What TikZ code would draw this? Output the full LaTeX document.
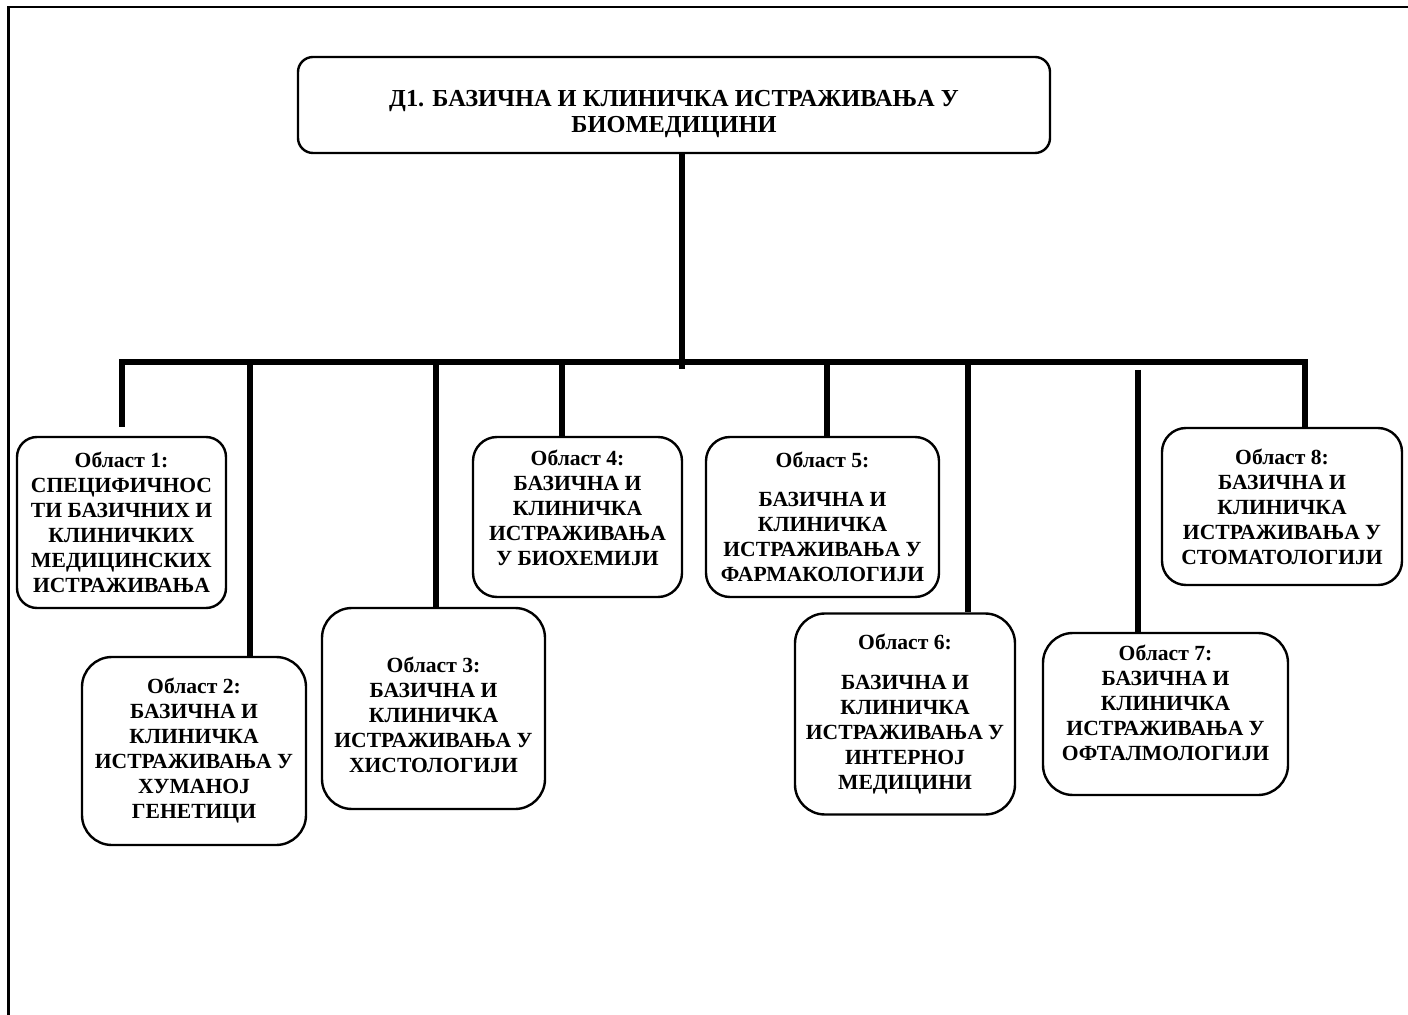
\documentclass[tikz,border=0pt]{standalone}
\usepackage{fontspec}
\setmainfont{Liberation Serif}
\begin{document}
\begin{tikzpicture}[x=0.5pt,y=-0.5pt,
  area/.style={draw,line width=1.2pt,rounded corners=#1,align=center,inner sep=0pt,
    font=\bfseries\fontsize{10.8}{12.5}\selectfont},
  area/.default=10pt,
  conn/.style={line width=2.6pt},
  frame/.style={line width=1.2pt}]
\useasboundingbox (0,0) rectangle (1408,1015);
% outer frame (cut by the page edge)
\draw[frame] (8.5,1015) -- (8.5,7) -- (1408,7);

% top box
\node[area=7.5pt,minimum width=376pt,minimum height=48pt,
      font=\bfseries\fontsize{12.2}{13}\selectfont] (top) at (674,105)
  {\rule{0pt}{17pt}Д1. БАЗИЧНА И КЛИНИЧКА ИСТРАЖИВАЊА У\\БИОМЕДИЦИНИ};

% areas
\node[area,minimum width=104.5pt,minimum height=85.5pt] (b1) at (121.5,522.5)
  {Област 1:\\СПЕЦИФИЧНОС\\ТИ БАЗИЧНИХ И\\КЛИНИЧКИХ\\МЕДИЦИНСКИХ\\ИСТРАЖИВАЊА};
\node[area=15pt,minimum width=112pt,minimum height=94pt] (b2) at (194,751)
  {Област 2:\\БАЗИЧНА И\\КЛИНИЧКА\\ИСТРАЖИВАЊА У\\ХУМАНОЈ\\ГЕНЕТИЦИ};
\node[area=15pt,minimum width=111.5pt,minimum height=100.5pt] (b3) at (433.5,708.5)
  {\rule{0pt}{14pt}Област 3:\\БАЗИЧНА И\\КЛИНИЧКА\\ИСТРАЖИВАЊА У\\ХИСТОЛОГИЈИ};
\node[area=12pt,minimum width=104.5pt,minimum height=80pt] (b4) at (577.5,517)
  {Област 4:\\БАЗИЧНА И\\КЛИНИЧКА\\ИСТРАЖИВАЊА\\У БИОХЕМИЈИ\rule[-9pt]{0pt}{9pt}};
\node[area=12pt,minimum width=116.5pt,minimum height=80pt] (b5) at (822.5,517)
  {Област 5:\\[7pt]БАЗИЧНА И\\КЛИНИЧКА\\ИСТРАЖИВАЊА У\\ФАРМАКОЛОГИЈИ};
\node[area=15pt,minimum width=110pt,minimum height=100.5pt] (b6) at (905,714)
  {Област 6:\\[7.5pt]БАЗИЧНА И\\КЛИНИЧКА\\ИСТРАЖИВАЊА У\\ИНТЕРНОЈ\\МЕДИЦИНИ};
\node[area=15pt,minimum width=122.5pt,minimum height=81pt] (b7) at (1165.5,714)
  {Област 7:\\БАЗИЧНА И\\КЛИНИЧКА\\ИСТРАЖИВАЊА У\\ОФТАЛМОЛОГИЈИ\rule[-11pt]{0pt}{9pt}};
\node[area=12pt,minimum width=120pt,minimum height=78.5pt] (b8) at (1282,506.5)
  {Област 8:\\БАЗИЧНА И\\КЛИНИЧКА\\ИСТРАЖИВАЊА У\\СТОМАТОЛОГИЈИ};

% connector points on the bar
\coordinate (tk) at (682,369);
\coordinate (kR) at (1305,362);
\coordinate (k1) at (122,362);
\coordinate (k2) at (250,362);
\coordinate (k3) at (436,362);
\coordinate (k4) at (562,362);
\coordinate (k5) at (827,362);
\coordinate (k6) at (968,362);
\coordinate (k7) at (1138,370);

% trunk
\draw[conn] (tk |- top.south) -- (tk);
% bar with outer branches
\draw[conn] ([yshift=4.5pt]b1.north -| k1) -- (k1) -- (kR) -- (kR |- b8.north);
% inner branches
\draw[conn] (k2) -- (k2 |- b2.north);
\draw[conn] (k3) -- (k3 |- b3.north);
\draw[conn] (k4) -- (k4 |- b4.north);
\draw[conn] (k5) -- (k5 |- b5.north);
\draw[conn] (k6) -- (k6 |- b6.north);
\draw[conn] (k7) -- (k7 |- b7.north);
\end{tikzpicture}
\end{document}
